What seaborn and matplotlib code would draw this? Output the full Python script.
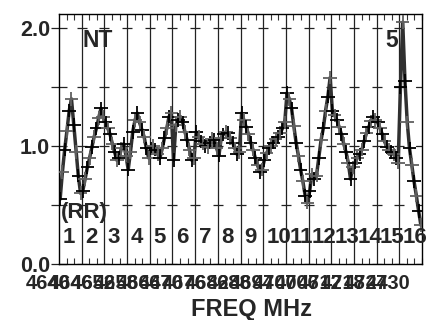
import numpy as np
import pandas as pd
import matplotlib
matplotlib.use("Agg")
import matplotlib.pyplot as plt
import matplotlib.transforms as mtransforms
from matplotlib.ticker import MultipleLocator, FixedLocator
import seaborn as sns

sns.set_theme(style="white")
plt.rcParams['font.family'] = ['Liberation Sans', 'DejaVu Sans']
plt.rcParams['font.weight'] = 'bold'

# channel coordinate (0..16) of each sample and its ratio value
pos = [k + (i + 0.5) / 10 for k in range(16) for i in range(10)]
ratio = [
    0.55, 0.78, 0.97, 1.13, 1.30, 1.40, 1.18, 0.95, 0.75, 0.60,
    0.62, 0.72, 0.82, 0.90, 0.99, 1.08, 1.15, 1.24, 1.32, 1.25,
    1.20, 1.15, 1.10, 1.02, 0.95, 0.88, 0.90, 0.98, 1.02, 0.92,
    0.80, 0.95, 1.12, 1.22, 1.28, 1.20, 1.14, 1.08, 0.98, 0.90,
    0.98, 1.00, 0.97, 0.93, 0.90, 0.98, 1.07, 1.15, 1.25, 1.28,
    0.88, 1.18, 1.22, 1.25, 1.20, 1.12, 1.05, 0.97, 0.88, 0.90,
    1.12, 1.08, 1.04, 1.02, 1.00, 0.99, 1.03, 1.06, 1.05, 0.98,
    0.92, 1.07, 1.10, 1.12, 1.11, 1.07, 1.03, 0.98, 0.93, 0.95,
    1.28, 1.22, 1.16, 1.10, 1.03, 0.97, 0.90, 0.84, 0.78, 0.80,
    0.88, 0.94, 0.98, 1.00, 1.03, 1.06, 1.08, 1.11, 1.15, 1.20,
    1.45, 1.40, 1.32, 1.17, 1.03, 0.92, 0.80, 0.70, 0.58, 0.52,
    0.62, 0.76, 0.72, 0.75, 0.90, 1.05, 1.15, 1.30, 1.42, 1.58,
    1.30, 1.26, 1.22, 1.16, 1.10, 1.02, 0.95, 0.86, 0.72, 0.82,
    0.86, 0.90, 0.93, 0.97, 1.04, 1.11, 1.16, 1.21, 1.25, 1.22,
    1.20, 1.15, 1.10, 1.04, 0.99, 0.97, 0.95, 0.93, 0.90, 0.86,
    1.50, 2.05, 1.55, 1.20, 0.98, 0.84, 0.70, 0.58, 0.45, 0.33,
]
pol = ['a', 'b'] * 80

channels = [str(i) for i in range(1, 17)]
freq_labels = ['4640', '4646', '4652', '4658', '4664', '4670', '4676', '4682',
               '4688', '4694', '4700', '4706', '4712', '4718', '4724', '4730']
y_ticks = [0.0, 0.5, 1.0, 1.5, 2.0]
y_labels = ['0.0', '', '1.0', '', '2.0']

df = pd.DataFrame({'pos': pos, 'ratio': ratio, 'pol': pol})

fig = plt.figure(figsize=(4.4, 3.2), dpi=100)
ax = fig.add_axes([59/440, 1 - 264/320, (422-59)/440, (264-14)/320])

# channel boundaries
for k in range(1, 16):
    ax.axvline(k, color='#222222', lw=0.9, zorder=1)
# dashed crossings
bx = np.arange(1, 16)
for yv in y_ticks:
    ax.plot(bx, np.full(len(bx), yv), ls='none', marker='_', ms=7.5,
            mew=0.9, color='#222222', zorder=1)

sns.lineplot(data=df, x='pos', y='ratio', color='#303030', lw=2.5, ax=ax,
             zorder=2, legend=False)
sns.scatterplot(data=df, x='pos', y='ratio', hue='pol',
                palette={'a': 'black', 'b': '#606060'}, marker='+', s=95,
                linewidth=1.3, ax=ax, zorder=3, legend=False)

ax.set_xlim(0, 16)
ax.set_ylim(0, 2.12)

ax.set_xticks(range(16))
ax.set_xticklabels(freq_labels, fontsize=14.5, fontweight='bold')
ax.xaxis.set_minor_locator(MultipleLocator(1/3))
ax.tick_params(axis='x', which='major', length=0, pad=7)
ax.tick_params(axis='x', which='minor', direction='in', length=4, width=0.8,
               top=True, bottom=True, color='#333333')
off = mtransforms.ScaledTranslation(-11/100, 0, fig.dpi_scale_trans)
for lab in ax.get_xticklabels():
    lab.set_transform(lab.get_transform() + off)

ax.set_yticks(y_ticks)
ax.set_yticklabels(y_labels, fontsize=15.5, fontweight='bold')
ax.tick_params(axis='y', which='major', direction='inout', length=11,
               width=0.9, left=True, right=False, pad=1, color='#222222')
ax.yaxis.set_minor_locator(FixedLocator([]))
for yv in y_ticks:
    ax.plot([15.75, 16], [yv, yv], color='#222222', lw=0.9, zorder=1)

ax.set_xlabel('FREQ MHz', fontsize=17, fontweight='bold')
ax.xaxis.set_label_coords(0.53, -0.135)
ax.set_ylabel('')

for i, c in enumerate(channels):
    ax.text(i + 0.15, 0.18, c, fontsize=16, fontweight='bold', ha='left',
            va='baseline', zorder=4)
ax.text(0.1, 0.39, '(RR)', fontsize=16, fontweight='bold', ha='left',
        va='baseline', zorder=4)
ax.text(1.05, 1.84, 'NT', fontsize=16.5, fontweight='bold', ha='left',
        va='baseline')
ax.text(14.95, 1.84, '5', fontsize=16.5, fontweight='bold', ha='right',
        va='baseline')

for sp in ax.spines.values():
    sp.set_color('black')
    sp.set_linewidth(1.0)

fig.savefig('out.png', dpi=100)
